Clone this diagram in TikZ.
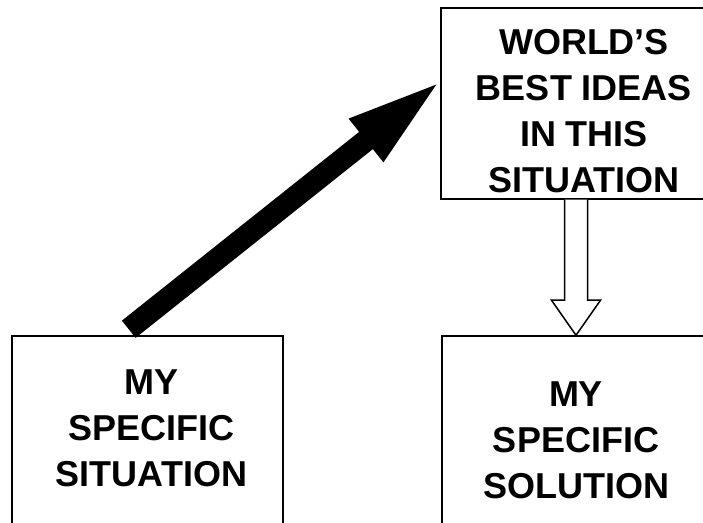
\documentclass[tikz,border=0pt]{standalone}
\usepackage{fontspec}
\setmainfont{Liberation Sans}
\usetikzlibrary{arrows.meta,calc}

\begin{document}
\begin{tikzpicture}[x=1bp,y=1bp,
	box/.style={draw,line width=1.5bp,inner sep=0pt},
	txt/.style={align=center,font=\fontsize{36bp}{46bp}\selectfont\bfseries}]
		\path[use as bounding box,clip] (0,0) rectangle (703,523);
		\node[box,minimum width=286bp,minimum height=191bp] (ideas) at (584,419.5) {};
		\node[box,minimum width=271bp,minimum height=189bp] (sit) at (147.5,92.5) {};
		\node[box,minimum width=268bp,minimum height=209bp] (sol) at (576,82.5) {};
		
		\node[txt] (ideastxt) at (584,411.5) {WORLD’S\\BEST IDEAS\\IN THIS\\SITUATION};
		\node[txt] (sittxt) at (151.5,95) {MY\\SPECIFIC\\SITUATION};
		\node[txt] (soltxt) at (576,83) {MY\\SPECIFIC\\SOLUTION};
		
		\coordinate (tail) at ($(sit.north west)+(117.5,6)$);
		\coordinate (tip) at ($(ideas.north west)+(4,-71)$);
		\draw[line width=22bp,-{Triangle[length=100bp,width=48bp]}] (tail) -- (tip);
		
		\coordinate (top) at (sol.north |- ideas.south);
		\draw[line width=1.5bp,fill=white] ($(top)+(-11.5,0)$) -- ($(sol.north)+(-11.5,35)$) -- ($(sol.north)+(-24.5,35)$) -- (sol.north)
			-- ($(sol.north)+(24.5,35)$) -- ($(sol.north)+(11.5,35)$) -- ($(top)+(11.5,0)$);
\end{tikzpicture}
\end{document}
